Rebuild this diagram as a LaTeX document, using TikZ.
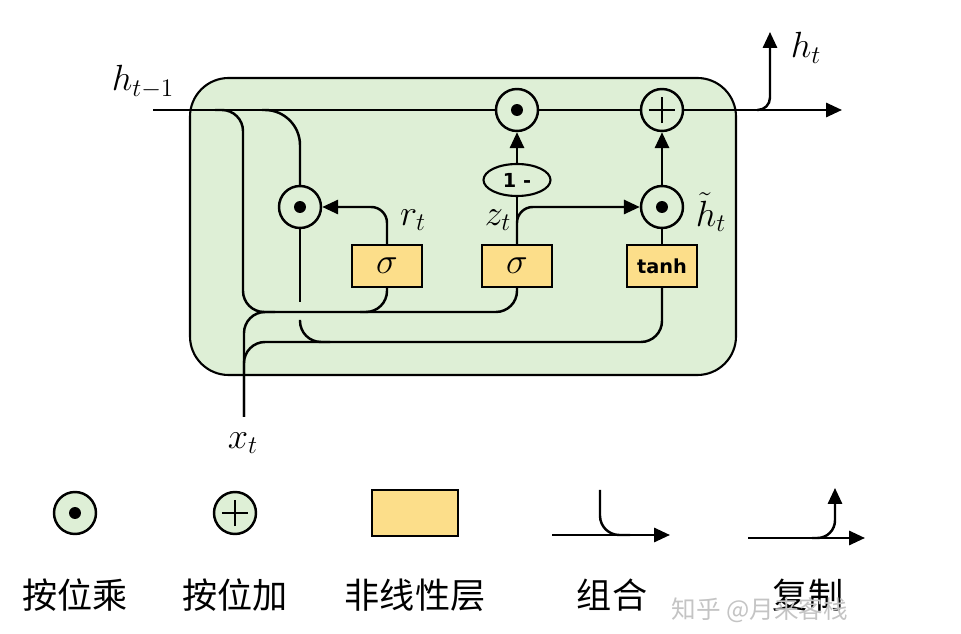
\documentclass[tikz,border=0pt]{standalone}
\usepackage{fontspec}
\newfontfamily\cjk{Noto Sans CJK SC}
\newfontfamily\gatefont{DejaVu Sans}
\usetikzlibrary{arrows.meta}
\usetikzlibrary{shapes.geometric}

\definecolor{cellgreen}{HTML}{DEEFD6}
\definecolor{gateyellow}{HTML}{FCDE8A}
\definecolor{markgray}{HTML}{C4C4C4}

\tikzset{
  wire/.style={line width=1.4pt},
  arr/.style={wire, -{Triangle[length=9pt,width=8pt]}},
  mulop/.style={circle, draw, line width=1.4pt, fill=cellgreen, minimum size=0.84cm, inner sep=0pt,
    path picture={\fill[black] (path picture bounding box.center) circle (3.4pt);}},
  addop/.style={circle, draw, line width=1.4pt, fill=cellgreen, minimum size=0.84cm, inner sep=0pt,
    path picture={
      \draw[line width=1.4pt] ([xshift=-7.5pt]path picture bounding box.center) -- ([xshift=7.5pt]path picture bounding box.center);
      \draw[line width=1.4pt] ([yshift=-7.5pt]path picture bounding box.center) -- ([yshift=7.5pt]path picture bounding box.center);}},
  gatebox/.style={draw, line width=1.2pt, fill=gateyellow, minimum width=1.4cm, minimum height=0.84cm,
    inner sep=0pt, font=\fontsize{21}{23}\selectfont},
  invop/.style={ellipse, draw, line width=1.2pt, fill=cellgreen, minimum width=1.34cm, minimum height=0.64cm,
    inner sep=0pt, font=\gatefont\bfseries\fontsize{11}{12}\selectfont},
  lbl/.style={font=\fontsize{20}{22}\selectfont, inner sep=1pt},
  legendtext/.style={font=\cjk\fontsize{20}{22}\selectfont},
}

\begin{document}
\begin{tikzpicture}[x=0.02cm, y=-0.02cm]
  \useasboundingbox (0,0) rectangle (961,634);

  % GRU cell body
  \draw[line width=1.2pt, fill=cellgreen, rounded corners=22pt] (190,78) rectangle (736,375);

  % Define the coordinates of the points
  \coordinate (hin) at (153,110);
  \coordinate (hsplit) at (757,110);
  \coordinate (hout) at (842,110);
  \coordinate (hup) at (770,32);
  \coordinate (tapa) at (215,110);
  \coordinate (tapb) at (262,110);
  \coordinate (xin) at (244,417);
  \coordinate (jump) at (300,302);
  \coordinate (land) at (300,320);

  % gates and operators
  \node[mulop] (mulz) at (517,110) {};
  \node[addop] (plus) at (662,110) {};
  \node[mulop] (mulr) at (300,207) {};
  \node[mulop] (mulh) at (662,207) {};
  \node[gatebox] (sigr) at (387,266) {$\sigma$};
  \node[gatebox] (sigz) at (517,266) {$\sigma$};
  \node[gatebox, font=\gatefont\bfseries\fontsize{11}{12}\selectfont] (tanh) at (662,266) {tanh};
  \node[invop] (inv) at (517,180) {1 -};

  % Draw the lines
  \draw[wire] (hin) -- (mulz);
  \draw[wire] (mulz) -- (plus);
  \draw[arr] (plus) -- (hout);
  \draw[arr, rounded corners=7pt] (hsplit) -| (hup);
  \draw[wire, rounded corners=12pt] (tapa) -| (243,312) -| (sigz.south);
  \draw[wire, rounded corners=12pt] (sigr.south) |- (360,312);
  \draw[wire, rounded corners=12pt] (xin) |- (275,312);
  \draw[wire, rounded corners=12pt] (xin) |- (300,342) -| (tanh.south);
  \draw[wire, rounded corners=20pt] (tapb) -| (mulr.north);
  \draw[wire] (mulr.south) -- (jump);
  \draw[wire, rounded corners=12pt] (land) |- (330,342);
  \draw[arr, rounded corners=9pt] (sigr.north) |- (mulr.east);
  \draw[wire] (sigz.north) -- (inv.south);
  \draw[arr] (inv.north) -- (mulz.south);
  \draw[arr, rounded corners=9pt] (sigz.north) |- (mulh.west);
  \draw[wire] (tanh.north) -- (mulh.south);
  \draw[arr] (mulh.north) -- (plus.south);

  % labels
  \node[lbl] (lhprev) at (143,82) {$h_{t-1}$};
  \node[lbl] (lhnext) at (806,48) {$h_t$};
  \node[lbl] (lx) at (243,443) {$x_t$};
  \node[lbl] (lr) at (413,220) {$r_t$};
  \node[lbl] (lz) at (498,220) {$z_t$};
  \node[lbl] (lcand) at (711,212) {$\tilde{h}_t$};

  % legend
  \node[mulop] (lgmul) at (75,513) {};
  \node[addop] (lgadd) at (235,513) {};
  \node[gatebox, minimum width=1.72cm, minimum height=0.92cm] (lgbox) at (415,513) {};
  \coordinate (cbl) at (552,535);
  \coordinate (cbr) at (670,535);
  \coordinate (cbt) at (600,490);
  \draw[arr] (cbl) -- (cbr);
  \draw[wire, rounded corners=11pt] (cbt) |- (630,535);
  \coordinate (cpl) at (748,538);
  \coordinate (cpr) at (865,538);
  \coordinate (cpt) at (835,488);
  \draw[arr] (cpl) -- (cpr);
  \draw[arr, rounded corners=10pt] (812,538) -| (cpt);

  \foreach \name/\x/\txt in {tmul/75/按位乘, tadd/235/按位加, tbox/415/非线性层, tcomb/612/组合, tcopy/808/复制}
    \node[legendtext] (\name) at (\x,595) {\txt};
  \node[font=\cjk\fontsize{14}{16}\selectfont, text=markgray] (mark) at (760,610) {知乎 @月来客栈};
\end{tikzpicture}
\end{document}
